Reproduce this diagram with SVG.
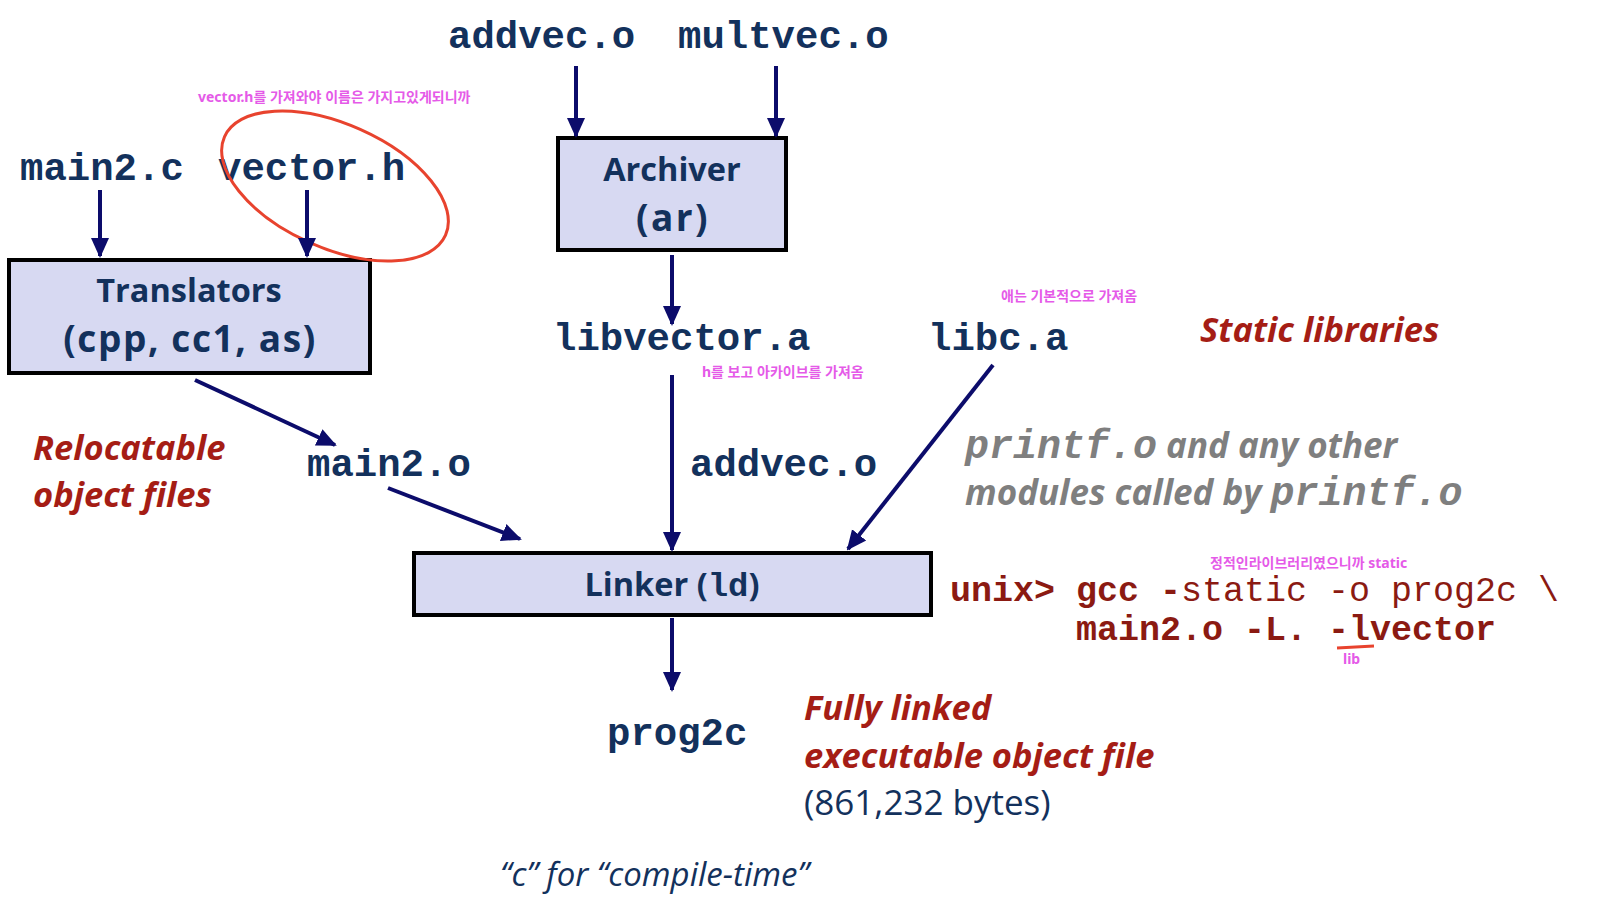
<svg xmlns="http://www.w3.org/2000/svg" width="1606" height="924" viewBox="0 0 1606 924">
<defs>
<marker id="ah" markerUnits="userSpaceOnUse" markerWidth="20" markerHeight="20" viewBox="0 0 20 20" refX="18" refY="10" orient="auto">
<path d="M0,1 L20,10 L0,19 Z" fill="#0c0c6b"/>
</marker>
<style>
.mono{font-family:"Liberation Mono","Courier New",monospace;font-weight:bold;fill:#13315c;font-size:39px}
.box{fill:#d7d9f2;stroke:#000;stroke-width:4}
.bt{font-family:"Open Sans",sans-serif;font-weight:bold;fill:#13315c;font-size:32.5px;text-anchor:middle}
.bp{font-size:37px;letter-spacing:1.6px}
.red{font-family:"Open Sans",sans-serif;font-weight:bold;font-style:italic;fill:#a51d15;font-size:34.5px}
.gray{font-family:"Open Sans",sans-serif;font-weight:bold;font-style:italic;fill:#7f7f7f;font-size:35px}
.graym{font-family:"Liberation Mono",monospace;font-weight:bold;font-style:italic;fill:#7f7f7f;font-size:40px}
.pink{font-family:"Noto Sans","Noto Sans CJK KR",sans-serif;font-weight:bold;fill:#e55ae8;font-size:14px}
.cmd{font-family:"Liberation Mono","Courier New",monospace;fill:#8b1a12;font-size:35px}
.conn line{stroke:#0c0c6b;stroke-width:4;marker-end:url(#ah)}
</style>
</defs>
<rect width="1606" height="924" fill="#fff"/>

<g id="addvec"><text class="mono" x="448" y="48">addvec.o</text></g>
<g id="multvec"><text class="mono" x="678" y="48">multvec.o</text></g>
<g id="main2c"><text class="mono" x="20" y="180">main2.c</text></g>
<g id="vectorh"><text class="mono" x="218" y="180">vector.h</text></g>

<g id="archiver">
<rect class="box" x="558" y="138" width="228" height="112"/>
<text class="bt" x="672" y="181">Archiver</text>
<text class="bt bp" x="673" y="231" style="letter-spacing:2.5px">(ar)</text>
</g>

<g id="translators">
<rect class="box" x="9" y="260" width="361" height="113"/>
<text class="bt" x="189" y="302">Translators</text>
<text class="bt bp" x="190" y="352">(cpp, cc1, as)</text>
</g>

<g id="annot-ellipse">
<ellipse cx="335" cy="186" rx="121" ry="62" transform="rotate(24 335 186)" fill="none" stroke="#e8432e" stroke-width="3"/>
<text class="pink" x="198" y="102">vector.h를 가져와야 이름은 가지고있게되니까</text>
</g>

<g id="libvector"><text class="mono" x="553" y="350">libvector.a</text></g>
<g id="libc"><text class="mono" x="928" y="350">libc.a</text></g>
<g id="static-label"><text class="red" x="1200" y="342">Static libraries</text></g>
<text class="pink" x="1001" y="301">애는 기본적으로 가져옴</text>
<text class="pink" x="702" y="377">h를 보고 아카이브를 가져옴</text>

<g id="reloc-label">
<text class="red" x="33" y="460">Relocatable</text>
<text class="red" x="33" y="507">object files</text>
</g>
<g id="main2o"><text class="mono" x="307" y="476">main2.o</text></g>
<g id="addvec-o"><text class="mono" x="690" y="476">addvec.o</text></g>

<g id="printf-label">
<text class="gray" x="965" y="458"><tspan class="graym">printf.o</tspan> and any other</text>
<text class="gray" x="965" y="505">modules called by <tspan class="graym">printf.o</tspan></text>
</g>

<g id="linker">
<rect class="box" x="414" y="553" width="517" height="62"/>
<text class="bt" x="672" y="596" font-size="33">Linker (<tspan font-family="Liberation Mono,monospace" font-size="34">ld</tspan>)</text>
</g>

<g id="command">
<text class="cmd" x="950" y="601"><tspan font-weight="bold">unix&gt; gcc -</tspan>static -o prog2c \</text>
<text class="cmd" x="1076" y="640" font-weight="bold">main2.o -L. -lvector</text>
<path d="M1337,648 L1374,646" stroke="#e8432e" stroke-width="3" fill="none"/>
<text class="pink" x="1343" y="664">lib</text>
<text class="pink" x="1210" y="568">정적인라이브러리였으니까 static</text>
</g>

<g id="prog2c"><text class="mono" x="607" y="745">prog2c</text></g>
<g id="full-label">
<text class="red" x="804" y="720">Fully linked</text>
<text class="red" x="804" y="768">executable object file</text>
<text x="804" y="815" font-family="'Open Sans',sans-serif" font-size="35" fill="#13315c">(861,232 bytes)</text>
</g>
<g id="note"><text x="500" y="886" font-family="'Open Sans',sans-serif" font-style="italic" font-size="33" fill="#13315c">“c” for “compile-time”</text></g>

<g id="connectors" class="conn">
<line x1="576" y1="66" x2="576" y2="136"/>
<line x1="776" y1="66" x2="776" y2="136"/>
<line x1="100" y1="190" x2="100" y2="256"/>
<line x1="307" y1="190" x2="307" y2="256"/>
<line x1="672" y1="255" x2="672" y2="324"/>
<line x1="672" y1="375" x2="672" y2="550"/>
<line x1="993" y1="365" x2="848" y2="549"/>
<line x1="195" y1="380" x2="335" y2="445"/>
<line x1="388" y1="488" x2="520" y2="539"/>
<line x1="672" y1="618" x2="672" y2="690"/>
</g>
</svg>
